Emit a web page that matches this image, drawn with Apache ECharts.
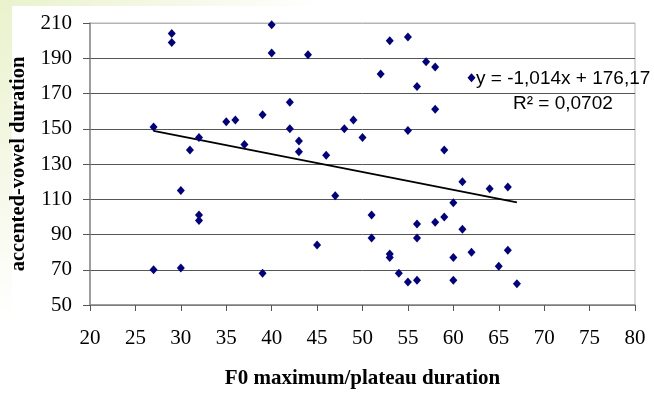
<!DOCTYPE html>
<html>
<head>
<meta charset="utf-8">
<style>
  html, body { margin: 0; padding: 0; background: #ffffff; }
  #chart { width: 654px; height: 394px; }
</style>
<script src="https://cdn.jsdelivr.net/npm/echarts@6/dist/echarts.min.js"></script>
</head>
<body>
<div id="chart"></div>
<script>
// F0 maximum/plateau duration (x) against accented-vowel duration (y)
const f0Duration = [
  27, 27, 29, 29, 30, 30, 31, 32, 32, 32,
  35, 36, 37, 39, 39, 40, 40, 42, 42, 43,
  43, 44, 45, 46, 47, 48, 49, 50, 51, 51,
  52, 53, 53, 53, 54, 55, 55, 55, 56, 56,
  56, 56, 57, 58, 58, 58, 59, 59, 60, 60,
  60, 61, 61, 62, 62, 64, 65, 66, 66, 67
];
const vowelDuration = [
  151, 70, 204, 199, 115, 71, 138, 145, 101, 98,
  154, 155, 141, 158, 68, 209, 193, 165, 150, 143,
  137, 192, 84, 135, 112, 150, 155, 145, 101, 88,
  181, 200, 79, 77, 68, 202, 149, 63, 174, 96,
  88, 64, 188, 185, 161, 97, 138, 100, 108, 77,
  64, 120, 93, 179, 80, 116, 72, 117, 81, 62
];

// Linear trend line and fit statistics
const trendSlope = -1.014;
const trendIntercept = 176.17;
const equationText = 'y = -1,014x + 176,17';
const rSquaredText = 'R\u00B2 = 0,0702';

// Axis settings
const xTicks = { min: 20, max: 80, step: 5 };
const yTicks = { min: 50, max: 210, step: 20 };
const xTitle = 'F0 maximum/plateau duration';
const yTitle = 'accented-vowel duration';

const points = f0Duration.map((x, i) => [x, vowelDuration[i]]);
const xLo = Math.min(...f0Duration);
const xHi = Math.max(...f0Duration);
const trendPoints = [xLo, xHi].map(x => [x, trendSlope * x + trendIntercept]);

const serif = '"Liberation Serif", "Times New Roman", serif';
const sans = '"Liberation Sans", Arial, sans-serif';

const gridColors = ['#555', '#555', '#555', '#555', '#555', '#555', '#555', '#555', '#b4b4b4'];

const chart = echarts.init(document.getElementById('chart'), null, { renderer: 'canvas' });
chart.setOption({
  animation: false,
  backgroundColor: '#ffffff',
  graphic: [
    {
      type: 'rect',
      z: -20,
      silent: true,
      shape: { x: 0, y: 0, width: 654, height: 394 },
      style: {
        fill: {
          type: 'radial', x: 0, y: 0, r: 320, global: true,
          colorStops: [
            { offset: 0, color: '#eaf2cc' },
            { offset: 0.6, color: '#f6f9ea' },
            { offset: 1, color: '#ffffff' }
          ]
        }
      }
    },
    {
      type: 'rect',
      z: -19,
      silent: true,
      shape: { x: 12, y: 6, width: 642, height: 388 },
      style: { fill: '#ffffff' }
    },
    {
      type: 'text',
      left: 476,
      top: 69,
      z: 10,
      style: { text: equationText, font: '19px ' + sans, fill: '#000000' }
    },
    {
      type: 'text',
      left: 513,
      top: 94,
      z: 10,
      style: { text: rSquaredText, font: '19px ' + sans, fill: '#000000' }
    }
  ],
  grid: {
    left: 90,
    right: 19,
    top: 23,
    bottom: 84,
    show: true,
    borderColor: '#b4b4b4',
    borderWidth: 1,
    backgroundColor: 'transparent'
  },
  xAxis: {
    type: 'value',
    min: xTicks.min,
    max: xTicks.max,
    interval: xTicks.step,
    name: xTitle,
    nameLocation: 'middle',
    nameGap: 63,
    nameTextStyle: { fontFamily: serif, fontWeight: 'bold', fontSize: 21, color: '#000' },
    axisLine: { show: true, lineStyle: { color: '#8a8a8a', width: 1.5 } },
    axisTick: { show: true, length: 6, lineStyle: { color: '#555' } },
    axisLabel: { margin: 23, fontFamily: serif, fontSize: 21, color: '#000' },
    splitLine: { show: false }
  },
  yAxis: {
    type: 'value',
    min: yTicks.min,
    max: yTicks.max,
    interval: yTicks.step,
    name: yTitle,
    nameLocation: 'middle',
    nameGap: 60,
    nameTextStyle: { fontFamily: serif, fontWeight: 'bold', fontSize: 20.5, color: '#000' },
    axisLine: { show: true, lineStyle: { color: '#8a8a8a', width: 1.5 } },
    axisTick: { show: true, length: 7, lineStyle: { color: '#555' } },
    axisLabel: { margin: 18, fontFamily: serif, fontSize: 21, color: '#000' },
    splitLine: { show: true, lineStyle: { color: gridColors, width: 1 } }
  },
  series: [
    {
      type: 'line',
      data: trendPoints,
      symbol: 'none',
      lineStyle: { color: '#000000', width: 2 },
      z: 3,
      silent: true
    },
    {
      type: 'scatter',
      data: points,
      symbol: 'diamond',
      symbolSize: [8, 9],
      itemStyle: { color: '#000080', opacity: 1 },
      z: 4
    },
    {
      // marker swatch in front of the trend equation
      type: 'scatter',
      data: [[62, 179]],
      symbol: 'diamond',
      symbolSize: [6, 7],
      itemStyle: { color: '#000080', opacity: 1 },
      z: 4,
      silent: true
    }
  ]
});
</script>
</body>
</html>
